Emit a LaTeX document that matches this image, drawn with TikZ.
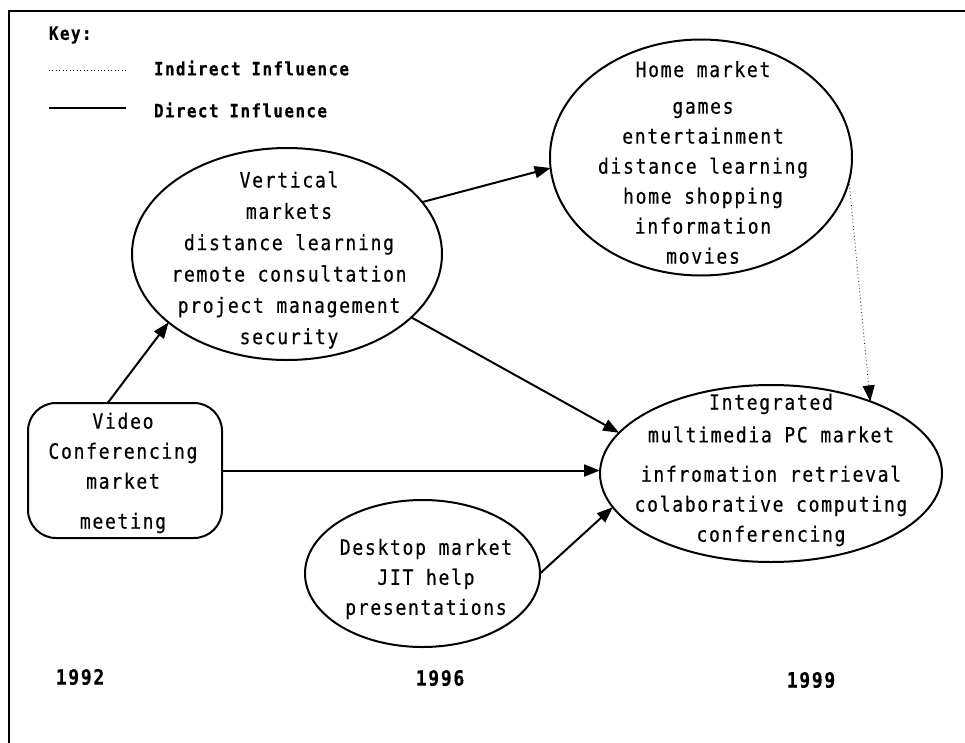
\documentclass[tikz,border=0pt]{standalone}
\usepackage{fontspec}
\newfontfamily\diagfont[FakeStretch=0.86,LetterSpace=8,FakeBold=0.4]{DejaVu Sans Mono}
\usetikzlibrary{arrows.meta,shapes.geometric}
\begin{document}
\begin{tikzpicture}[x=0.75pt,y=-0.75pt,
  every node/.style={inner sep=0pt,outer sep=0pt},
  mkt/.style={draw,ellipse,line width=1.5pt},
  txt/.style={align=center,font=\diagfont\fontsize{15.75}{22.5}\selectfont},
  keytxt/.style={anchor=west,font=\diagfont\bfseries\fontsize{13.8}{16}\selectfont},
  yr/.style={font=\diagfont\bfseries\fontsize{15.75}{18}\selectfont},
  direct/.style={line width=1.5pt,-{Triangle[length=12pt,width=9pt]}},
  indirect/.style={line width=0.6pt,dotted,-{Triangle[length=12pt,width=9pt]}},
  keydot/.style={line width=0.6pt,dotted},
  keysolid/.style={line width=1.2pt},
]
\useasboundingbox (0,0) rectangle (965,743);
\fill[white] (0,0) rectangle (965,743);
% frame (left and top edges visible)
\draw[line width=1.2pt] (9,743) -- (9,11) -- (965,11);

% key
\node[keytxt] (key) at (49,35) {Key:};
\coordinate (kd1) at (49,70);
\coordinate (kd2) at (126,70);
\draw[keydot] (kd1) -- (kd2);
\node[keytxt] (kind) at (154,68) {Indirect Influence};
\coordinate (ks1) at (49,108);
\coordinate (ks2) at (126,108);
\draw[keysolid] (ks1) -- (ks2);
\node[keytxt] (kdir) at (154,110) {Direct Influence};

% markets
\node[mkt,minimum width=226.5pt,minimum height=177pt] (home) at (701,157.5) {};
\node[txt] (hometxt) at (703,162.5) {Home market\\[5pt]games\\entertainment\\distance learning\\home shopping\\information\\movies};

\node[mkt,minimum width=232.5pt,minimum height=159pt] (vertical) at (287,254) {};
\node[txt,font=\diagfont\fontsize{15.75}{23.5}\selectfont] (verticaltxt) at (289,260) {Vertical\\markets\\distance learning\\remote consultation\\project management\\security};

\node[draw,rounded corners=21pt,line width=1.5pt,minimum width=145.5pt,minimum height=101.25pt] (video) at (125,470.5) {};
\node[txt] (videotxt) at (123,473) {Video\\Conferencing\\market\\[7.5pt]meeting};

\node[mkt,minimum width=256.5pt,minimum height=132.75pt] (integrated) at (771,473.5) {};
\node[txt] (integratedtxt) at (771,470) {Integrated\\[2pt]multimedia PC market\\[7pt]infromation retrieval\\colaborative computing\\conferencing};

\node[mkt,minimum width=176.25pt,minimum height=110.25pt] (desktop) at (422.5,573.5) {};
\node[txt] (desktoptxt) at (426,579) {Desktop market\\JIT help\\presentations};

% years
\node[yr] (y92) at (80,677) {1992};
\node[yr] (y96) at (440,678) {1996};
\node[yr] (y99) at (811,680) {1999};

% connectors
\draw[direct] ([xshift=-13pt]video.north) -- (vertical.210);
\draw[direct] (vertical.21) -- (home.184);
\draw[direct] (vertical.333) -- (integrated.165.3);
\draw[direct] (video.east) -- (video.east -| integrated.west);
\draw[direct] (desktop.east) -- (integrated.192);
\draw[indirect] (home.351) -- (integrated.36);
\end{tikzpicture}
\end{document}
